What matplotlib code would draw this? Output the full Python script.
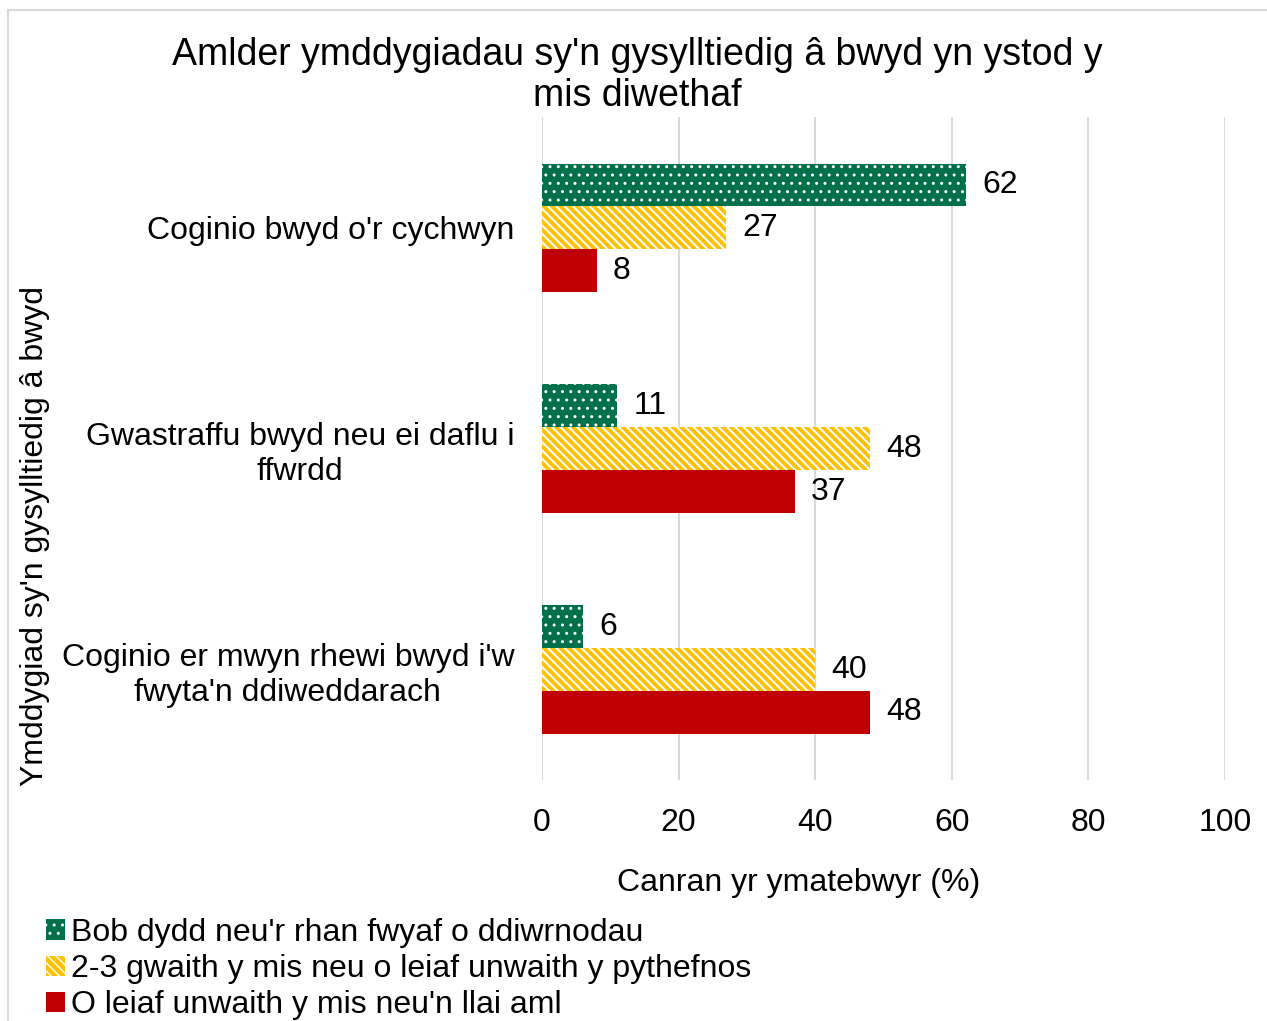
import numpy as np
import matplotlib.pyplot as plt
from matplotlib.patches import Rectangle

plt.rcParams['font.family'] = ['Liberation Sans', 'DejaVu Sans']
plt.rcParams['hatch.linewidth'] = 1.0

categories = ["Coginio bwyd o'r cychwyn",
              "Gwastraffu bwyd neu ei daflu i\nffwrdd",
              "Coginio er mwyn rhewi bwyd i'w\nfwyta'n ddiweddarach"]
series_names = ["Bob dydd neu'r rhan fwyaf o ddiwrnodau",
                "2-3 gwaith y mis neu o leiaf unwaith y pythefnos",
                "O leiaf unwaith y mis neu'n llai aml"]
daily = [62, 11, 6]
fortnightly = [27, 48, 40]
monthly = [8, 37, 48]

colors = ['#00704A', '#FFC000', '#C00000']
hatches = ['..', '\\' * 4, None]
hatch_lw = [1.0, 1.5, 1.0]
fs = 23

fig = plt.figure(figsize=(12.67, 10.21), dpi=100)
fig.patches.append(Rectangle((0.006, -0.1), 1.2, 1.09, transform=fig.transFigure,
                             fill=False, edgecolor='#D9D9D9', linewidth=1.5))
ax = fig.add_axes([0.4278, 0.236, 0.5391, 0.649])

y = np.arange(len(categories))[::-1]
h = 0.194
for i, (vals, name) in enumerate(zip([daily, fortnightly, monthly], series_names)):
    pos = y + (1 - i) * h
    with plt.rc_context({'hatch.linewidth': hatch_lw[i]}):
        if hatches[i]:
            bars = ax.barh(pos, vals, height=h, color=colors[i], edgecolor='white',
                           linewidth=0, hatch=hatches[i], label=name)
        else:
            bars = ax.barh(pos, vals, height=h, color=colors[i], linewidth=0, label=name)
    for b in bars:
        if hasattr(b, 'set_hatch_linewidth'):
            b.set_hatch_linewidth(hatch_lw[i])
    for b, v in zip(bars, vals):
        ax.text(v + 2.4, b.get_y() + h / 2, str(v), va='center', ha='left', fontsize=fs)

ax.set_xlim(0, 100)
ax.set_ylim(-0.5, 2.5)
ax.set_xticks(range(0, 101, 20))
ax.set_yticks(y)
ax.set_yticklabels(categories, fontsize=fs, ha='right')
for lab in ax.get_yticklabels():
    lab.set_multialignment('center')
ax.tick_params(axis='y', length=0, pad=20)
ax.tick_params(axis='x', length=0, labelsize=fs, pad=20)
ax.grid(axis='x', color='#D9D9D9', linewidth=1.5)
ax.set_axisbelow(True)
for s in ax.spines.values():
    s.set_visible(False)

fig.text(0.63, 0.135, 'Canran yr ymatebwyr (%)', fontsize=fs, ha='center', va='center')
fig.text(0.028, 0.475, "Ymddygiad sy'n gysylltiedig â bwyd", rotation=90,
         fontsize=fs, ha='center', va='center')
fig.text(0.503, 0.926, "Amlder ymddygiadau sy'n gysylltiedig â bwyd yn ystod y\nmis diwethaf",
         fontsize=27, ha='center', va='center', linespacing=1.2)

fig.legend(loc='lower left', bbox_to_anchor=(0.026, -0.012), frameon=False,
           fontsize=fs, handlelength=0.6, handleheight=0.6, handletextpad=0.2,
           labelspacing=0.2, borderaxespad=0)

fig.savefig('out.png', dpi=100)
